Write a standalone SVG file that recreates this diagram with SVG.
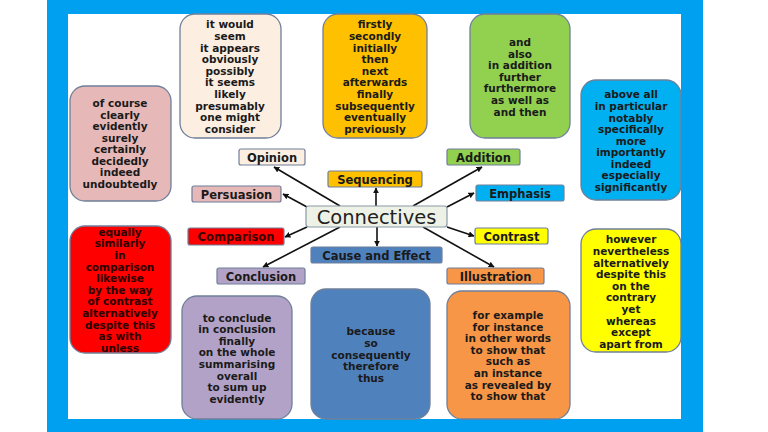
<svg xmlns="http://www.w3.org/2000/svg" width="768" height="432" viewBox="0 0 768 432">
<defs>
<marker id="ah" viewBox="0 0 10 10" refX="9" refY="5" markerWidth="6" markerHeight="6" orient="auto" markerUnits="userSpaceOnUse">
<path d="M0,0 L10,5 L0,10 z" fill="#111"/>
</marker>
<style>
.box{stroke:#6f7f99;stroke-width:1.3}
.lbl{stroke:#6f7f99;stroke-width:1.2}
.t{font-family:"DejaVu Sans",Verdana,sans-serif;font-weight:bold;font-size:10.5px;fill:#1a1a1a;text-anchor:middle}
.l{font-family:"DejaVu Sans",Verdana,sans-serif;font-weight:bold;font-size:11.5px;fill:#1a1a1a;text-anchor:middle}
.c{stroke:#111;stroke-width:1.6;fill:none;marker-end:url(#ah)}
</style>
</defs>
<rect x="0" y="0" width="768" height="432" fill="#ffffff"/>
<rect x="47" y="0" width="656" height="432" fill="#00a0f0"/>
<rect x="68" y="14" width="613" height="405" fill="#ffffff"/>

<g id="connectors">
<line class="c" x1="340" y1="206" x2="274" y2="167"/>
<line class="c" x1="376" y1="206" x2="376" y2="188"/>
<line class="c" x1="413" y1="206" x2="482" y2="167"/>
<line class="c" x1="307" y1="207" x2="283" y2="194"/>
<line class="c" x1="447" y1="207" x2="474" y2="193"/>
<line class="c" x1="307" y1="227" x2="285" y2="237"/>
<line class="c" x1="447" y1="227" x2="474" y2="236"/>
<line class="c" x1="377" y1="227" x2="377" y2="246"/>
<line class="c" x1="340" y1="227" x2="263" y2="267"/>
<line class="c" x1="423" y1="227" x2="494" y2="267"/>
</g>

<g id="opinion-list">
<rect class="box" x="180" y="14" width="101" height="124" rx="15" fill="#fdeee2"/>
<text class="t" x="230"><tspan x="230" y="28.3">it would</tspan><tspan x="230" y="40">seem</tspan><tspan x="230" y="51.6">it appears</tspan><tspan x="230" y="63.2">obviously</tspan><tspan x="230" y="74.8">possibly</tspan><tspan x="230" y="86.4">it seems</tspan><tspan x="230" y="98">likely</tspan><tspan x="230" y="109.6">presumably</tspan><tspan x="230" y="121.2">one might</tspan><tspan x="230" y="132.6">consider</tspan></text>
</g>

<g id="sequencing-list">
<rect class="box" x="323" y="14" width="104" height="124" rx="15" fill="#ffc000"/>
<text class="t"><tspan x="375" y="28.3">firstly</tspan><tspan x="375" y="40">secondly</tspan><tspan x="375" y="51.6">initially</tspan><tspan x="375" y="63.2">then</tspan><tspan x="375" y="74.8">next</tspan><tspan x="375" y="86.4">afterwards</tspan><tspan x="375" y="98">finally</tspan><tspan x="375" y="109.6">subsequently</tspan><tspan x="375" y="121.2">eventually</tspan><tspan x="375" y="132.6">previously</tspan></text>
</g>

<g id="addition-list">
<rect class="box" x="470" y="14" width="100" height="124" rx="15" fill="#92d050"/>
<text class="t"><tspan x="520" y="46">and</tspan><tspan x="520" y="57.5">also</tspan><tspan x="520" y="69">in addition</tspan><tspan x="520" y="80.7">further</tspan><tspan x="520" y="92.3">furthermore</tspan><tspan x="520" y="104">as well as</tspan><tspan x="520" y="115.5">and then</tspan></text>
</g>

<g id="emphasis-list">
<rect class="box" x="581" y="80" width="100" height="120" rx="15" fill="#00b0f0"/>
<text class="t"><tspan x="631" y="98.3">above all</tspan><tspan x="631" y="109.9">in particular</tspan><tspan x="631" y="121.5">notably</tspan><tspan x="631" y="133">specifically</tspan><tspan x="631" y="144.6">more</tspan><tspan x="631" y="156.2">importantly</tspan><tspan x="631" y="167.7">indeed</tspan><tspan x="631" y="179.2">especially</tspan><tspan x="631" y="190.7">significantly</tspan></text>
</g>

<g id="persuasion-list">
<rect class="box" x="70" y="86" width="101" height="115" rx="15" fill="#e6b9b8"/>
<text class="t"><tspan x="120" y="107.3">of course</tspan><tspan x="120" y="118.8">clearly</tspan><tspan x="120" y="130.3">evidently</tspan><tspan x="120" y="141.8">surely</tspan><tspan x="120" y="153.3">certainly</tspan><tspan x="120" y="164.8">decidedly</tspan><tspan x="120" y="176.3">indeed</tspan><tspan x="120" y="187.7">undoubtedly</tspan></text>
</g>

<g id="comparison-list">
<rect class="box" x="70" y="226" width="101" height="127" rx="15" fill="#ff0000"/>
<text class="t" style="fill:#2a0000"><tspan x="120" y="235.7">equally</tspan><tspan x="120" y="247.3">similarly</tspan><tspan x="120" y="258.9">in</tspan><tspan x="120" y="270.5">comparison</tspan><tspan x="120" y="282.1">likewise</tspan><tspan x="120" y="293.7">by the way</tspan><tspan x="120" y="305.3">of contrast</tspan><tspan x="120" y="316.9">alternatively</tspan><tspan x="120" y="328.5">despite this</tspan><tspan x="120" y="340.1">as with</tspan><tspan x="120" y="351.7">unless</tspan></text>
</g>

<g id="conclusion-list">
<rect class="box" x="182" y="296" width="110" height="123" rx="15" fill="#b3a2c7"/>
<text class="t"><tspan x="237" y="321.7">to conclude</tspan><tspan x="237" y="333.3">in conclusion</tspan><tspan x="237" y="344.8">finally</tspan><tspan x="237" y="356.4">on the whole</tspan><tspan x="237" y="368">summarising</tspan><tspan x="237" y="379.6">overall</tspan><tspan x="237" y="391.1">to sum up</tspan><tspan x="237" y="402.7">evidently</tspan></text>
</g>

<g id="cause-list">
<rect class="box" x="311" y="289" width="119" height="130" rx="15" fill="#4f81bd"/>
<text class="t"><tspan x="371" y="335">because</tspan><tspan x="371" y="347">so</tspan><tspan x="371" y="358.6">consequently</tspan><tspan x="371" y="370.2">therefore</tspan><tspan x="371" y="381.8">thus</tspan></text>
</g>

<g id="illustration-list">
<rect class="box" x="447" y="291" width="123" height="128" rx="15" fill="#f79646"/>
<text class="t"><tspan x="508" y="319">for example</tspan><tspan x="508" y="330.6">for instance</tspan><tspan x="508" y="342.2">in other words</tspan><tspan x="508" y="353.8">to show that</tspan><tspan x="508" y="365.4">such as</tspan><tspan x="508" y="377">an instance</tspan><tspan x="508" y="388.6">as revealed by</tspan><tspan x="508" y="400">to show that</tspan></text>
</g>

<g id="contrast-list">
<rect class="box" x="581" y="229" width="100" height="123" rx="15" fill="#ffff00"/>
<text class="t"><tspan x="631" y="243.3">however</tspan><tspan x="631" y="254.9">nevertheless</tspan><tspan x="631" y="266.5">alternatively</tspan><tspan x="631" y="278.1">despite this</tspan><tspan x="631" y="289.7">on the</tspan><tspan x="631" y="301.3">contrary</tspan><tspan x="631" y="312.9">yet</tspan><tspan x="631" y="324.5">whereas</tspan><tspan x="631" y="336.1">except</tspan><tspan x="631" y="347.7">apart from</tspan></text>
</g>

<g id="connectives">
<rect x="306" y="206" width="141" height="21" rx="3" fill="#eef2e6" stroke="#8a9aa8" stroke-width="1.2"/>
<text x="376.5" y="223.5" style="font-family:'DejaVu Sans',Verdana,sans-serif;font-size:19.5px;fill:#222;text-anchor:middle">Connectives</text>
</g>

<g id="opinion"><rect class="lbl" x="239" y="149" width="66" height="16" rx="2" fill="#fdeee2"/><text class="l" x="272" y="161.5">Opinion</text></g>
<g id="sequencing"><rect class="lbl" x="328" y="171" width="94" height="16" rx="2" fill="#ffc000"/><text class="l" x="375" y="183.5">Sequencing</text></g>
<g id="addition"><rect class="lbl" x="447" y="149" width="73" height="16" rx="2" fill="#92d050"/><text class="l" x="483.5" y="161.5">Addition</text></g>
<g id="persuasion"><rect class="lbl" x="192" y="186" width="89" height="16" rx="2" fill="#e6b9b8"/><text class="l" x="236.5" y="198.5">Persuasion</text></g>
<g id="emphasis"><rect class="lbl" x="476" y="185" width="88" height="16" rx="2" fill="#00b0f0"/><text class="l" x="520" y="197.5">Emphasis</text></g>
<g id="comparison"><rect class="lbl" x="188" y="228" width="96" height="17" rx="2" fill="#ff0000"/><text class="l" x="236" y="241" style="fill:#3a0000">Comparison</text></g>
<g id="contrast"><rect class="lbl" x="475" y="228" width="73" height="16" rx="2" fill="#ffff00"/><text class="l" x="511.5" y="240.5">Contrast</text></g>
<g id="cause"><rect class="lbl" x="311" y="247" width="131" height="16" rx="2" fill="#4f81bd"/><text class="l" x="376.5" y="259.5">Cause and Effect</text></g>
<g id="conclusion"><rect class="lbl" x="217" y="268" width="88" height="16" rx="2" fill="#b3a2c7"/><text class="l" x="261" y="280.5">Conclusion</text></g>
<g id="illustration"><rect class="lbl" x="447" y="268" width="97" height="16" rx="2" fill="#f79646"/><text class="l" x="495.5" y="280.5">Illustration</text></g>
</svg>
